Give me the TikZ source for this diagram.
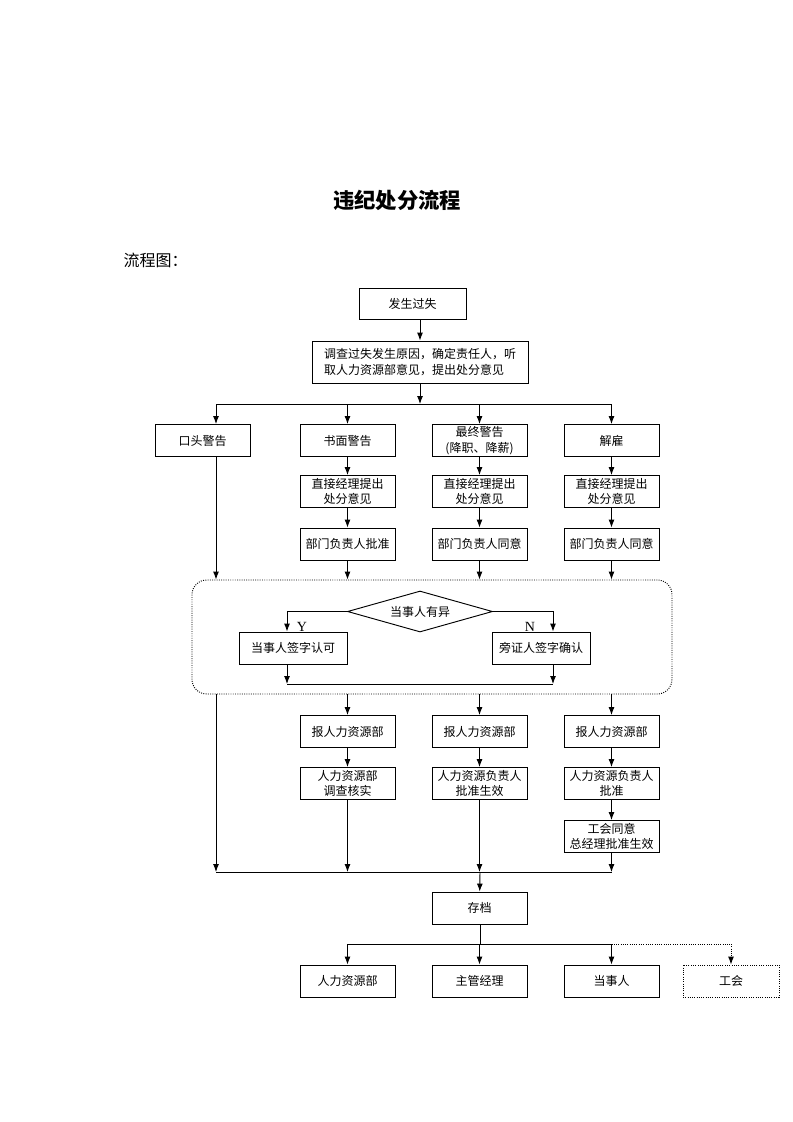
\documentclass[tikz,border=0pt]{standalone}
\usepackage{fontspec}
\setmainfont{Noto Sans CJK SC}
\newfontfamily\latinfont{Liberation Serif}
\usetikzlibrary{arrows.meta,shapes.geometric}
\newcommand\px{0.75pt}
\tikzset{
  box/.style={draw, line width=0.7pt, inner sep=1pt, minimum width=95*\px,
    minimum height=32*\px, align=center, font=\fontsize{9}{11.5}\selectfont},
  decision/.style={draw, diamond, aspect=3.5, line width=0.7pt, inner sep=0pt,
    minimum width=145*\px, minimum height=41*\px, font=\fontsize{9}{11.5}\selectfont},
  group/.style={draw, densely dotted, line width=0.7pt, rounded corners=11pt},
  wire/.style={line width=0.7pt},
  link/.style={line width=0.7pt, -{Latex[length=6pt,width=4.5pt]}},
  yn/.style={font=\latinfont\fontsize{10.5}{12}\selectfont, inner sep=0pt},
}

\begin{document}
\begin{tikzpicture}[x=\px, y=-\px]
  \useasboundingbox (0,0) rectangle (793,1122);
  % heading
  \node (title) at (397,200) {\fontsize{16}{19}\selectfont\bfseries 违纪处分流程};
  \node[anchor=west] (chart) at (119,260) {\fontsize{12}{14}\selectfont 流程图：};

  % start
  \node[box, minimum width=107*\px, minimum height=31*\px] (fault) at (412.5,303.5) {发生过失};
  \node[box, minimum width=216*\px, minimum height=42*\px, align=left] (invest) at (420,362)
    {调查过失发生原因，确定责任人，听\\取人力资源部意见，提出处分意见};
  \coordinate (split) at (420,404);
  \coordinate (leftcol) at (216,404);
  \draw[link] (fault.south -| invest) -- (invest);
  \draw[link] (invest) -- (split);

  % four kinds of penalty
  \node[box] (oral) at (202.5,440.5) {口头警告};
  \node[box] (written) at (347.5,440.5) {书面警告};
  \node[box] (final) at (479.5,440.5) {最终警告\\(降职、降薪)};
  \node[box] (dismiss) at (611.5,440.5) {解雇};
  \draw[wire] (leftcol) -- (split -| dismiss);
  \draw[link] (leftcol) -- (leftcol |- oral.north);
  \foreach \n in {written,final,dismiss}
    \draw[link] (split -| \n) -- (\n);

  \node[box] (propW) at (347.5,491.5) {直接经理提出\\处分意见};
  \node[box] (propF) at (479.5,491.5) {直接经理提出\\处分意见};
  \node[box] (propD) at (611.5,491.5) {直接经理提出\\处分意见};
  \node[box] (approveW) at (347.5,544) {部门负责人批准};
  \node[box] (approveF) at (479.5,544) {部门负责人同意};
  \node[box] (approveD) at (611.5,544) {部门负责人同意};
  \draw[link] (written) -- (propW);
  \draw[link] (final) -- (propF);
  \draw[link] (dismiss) -- (propD);
  \draw[link] (propW) -- (approveW);
  \draw[link] (propF) -- (approveF);
  \draw[link] (propD) -- (approveD);

  % signing
  \node[group, minimum width=480*\px, minimum height=114*\px] (review) at (432,637) {};
  \draw[link] (oral.south -| leftcol) -- (review.north -| leftcol);
  \draw[link] (approveW) -- (review.north -| approveW);
  \draw[link] (approveF) -- (review.north -| approveF);
  \draw[link] (approveD) -- (review.north -| approveD);

  \node[decision] (dispute) at (420,611.5) {当事人有异};
  \node[box, minimum width=108*\px] (agree) at (293,648) {当事人签字认可};
  \node[box, minimum width=98*\px] (witness) at (541,648) {旁证人签字确认};
  \coordinate (yturn) at (287,611.5);
  \coordinate (nturn) at (553,611.5);
  \draw[link] (dispute.west) -- (yturn) -- (yturn |- agree.north);
  \draw[link] (dispute.east) -- (nturn) -- (nturn |- witness.north);
  \node[yn] (ylabel) at (302,627) {Y};
  \node[yn] (nlabel) at (530,627) {N};
  \coordinate (joinL) at (287,684);
  \coordinate (joinR) at (553,684);
  \draw[link] (agree.south -| joinL) -- (joinL);
  \draw[link] (witness.south -| joinR) -- (joinR);
  \draw[wire] (joinL) -- (joinR);

  % human resources
  \node[box] (reportW) at (347.5,731.5) {报人力资源部};
  \node[box] (reportF) at (479.5,731.5) {报人力资源部};
  \node[box] (reportD) at (611.5,731.5) {报人力资源部};
  \draw[link] (review.south -| reportW) -- (reportW);
  \draw[link] (review.south -| reportF) -- (reportF);
  \draw[link] (review.south -| reportD) -- (reportD);
  \node[box] (hrCheck) at (347.5,783.5) {人力资源部\\调查核实};
  \node[box] (hrHead) at (479.5,783.5) {人力资源负责人\\批准生效};
  \node[box] (hrApprove) at (611.5,783.5) {人力资源负责人\\批准};
  \node[box] (union) at (611.5,836.5) {工会同意\\总经理批准生效};
  \draw[link] (reportW) -- (hrCheck);
  \draw[link] (reportF) -- (hrHead);
  \draw[link] (reportD) -- (hrApprove);
  \draw[link] (hrApprove) -- (union);

  % archive
  \coordinate (merge) at (480,872);
  \draw[wire] (leftcol |- merge) -- (merge -| dismiss);
  \draw[link] (review.south -| leftcol) -- (leftcol |- merge);
  \draw[link] (hrCheck) -- (hrCheck |- merge);
  \draw[link] (hrHead) -- (hrHead |- merge);
  \draw[link] (union) -- (union |- merge);
  \node[box] (archive) at (479.5,908) {存档};
  \draw[link] (merge) -- (archive);
  \coordinate (spread) at (480,944);
  \draw[wire] (archive.south -| spread) -- (spread);

  \node[box] (hrDept) at (347.5,981) {人力资源部};
  \node[box] (manager) at (479.5,981) {主管经理};
  \node[box] (party) at (611.5,981) {当事人};
  \node[box, densely dotted, minimum width=96*\px] (unionBox) at (731,981) {工会};
  \draw[wire] (spread -| hrDept) -- (spread -| party);
  \draw[wire, densely dotted] (spread -| party) -- (spread -| unionBox);
  \foreach \n in {hrDept,manager,party}
    \draw[link] (spread -| \n) -- (\n);
  \draw[link, densely dotted] (spread -| unionBox) -- (unionBox);
\end{tikzpicture}
\end{document}
